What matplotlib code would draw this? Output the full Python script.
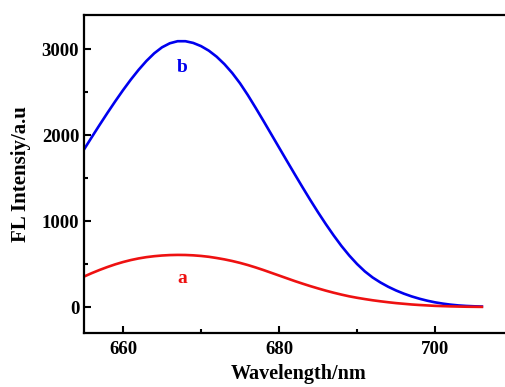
import numpy as np
import matplotlib
matplotlib.use("Agg")
import matplotlib.pyplot as plt
from matplotlib.ticker import MultipleLocator

plt.rcParams['font.family'] = ['Liberation Serif', 'DejaVu Serif']
plt.rcParams['font.weight'] = 'bold'

wavelength = np.arange(655, 707)

# curve b (blue)
intensity_b = [1836, 1980, 2122, 2261, 2396, 2526, 2649, 2763, 2866, 2955,
               3025, 3072, 3096, 3096, 3076, 3039, 2986, 2916, 2829, 2726,
               2606, 2469, 2321, 2169, 2014, 1859, 1704, 1550, 1398, 1249,
               1105, 967, 836, 713, 602, 503, 417, 346, 288, 238,
               195, 158, 126, 99, 76, 57, 42, 30, 21, 15,
               11, 8]
# curve a (red)
intensity_a = [357, 397, 434, 468, 499, 526, 549, 568, 583, 594,
               602, 607, 609, 608, 604, 597, 587, 573, 557, 538,
               516, 491, 463, 433, 401, 369, 337, 305, 275, 246,
               219, 193, 169, 147, 127, 110, 95, 81, 69, 58,
               48, 40, 32, 26, 21, 16, 13, 10, 8, 6,
               5, 4]

fig = plt.figure(figsize=(5.06, 3.87), dpi=100)
ax = fig.add_axes([0.166, 0.1395, 0.848, 0.8215])

ax.plot(wavelength, intensity_b, color='#0000ee', lw=1.9)
ax.plot(wavelength, intensity_a, color='#ee1111', lw=1.9)

ax.text(667.6, 2790, 'b', color='#0000ee', fontsize=14, fontweight='bold',
        ha='center', va='center')
ax.text(667.6, 340, 'a', color='#ee1111', fontsize=14, fontweight='bold',
        ha='center', va='center')

ax.set_xlim(655, 710)
ax.set_ylim(-300, 3400)
ax.xaxis.set_major_locator(MultipleLocator(20))
ax.xaxis.set_minor_locator(MultipleLocator(10))
ax.yaxis.set_major_locator(MultipleLocator(1000))
ax.yaxis.set_minor_locator(MultipleLocator(500))

ax.tick_params(which='both', direction='in', width=1.5, labelsize=13.5)
ax.tick_params(axis='x', pad=6)
ax.tick_params(which='major', length=5)
ax.tick_params(which='minor', length=3)
for sp in ax.spines.values():
    sp.set_linewidth(1.6)
ax.spines['right'].set_visible(False)

ax.set_xlabel('Wavelength/nm', fontsize=14.5, fontweight='bold', labelpad=4)
ax.set_ylabel('FL Intensiy/a.u', fontsize=15, fontweight='bold', labelpad=8)

fig.savefig('out.png', dpi=100)
